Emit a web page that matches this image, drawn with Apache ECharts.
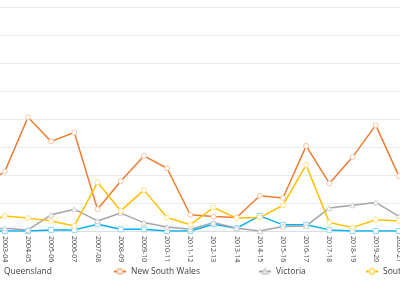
<!DOCTYPE html>
<html>
<head>
<meta charset="utf-8">
<script src="https://cdn.jsdelivr.net/npm/echarts@6/dist/echarts.min.js"></script>
<style>
html,body{margin:0;padding:0;width:400px;height:283px;overflow:hidden;background:#fff;}
#c{position:absolute;left:-70px;top:0;width:500px;height:283px;}
</style>
</head>
<body>
<div id="c"></div>
<script>
var categories = ['2002-03','2003-04','2004-05','2005-06','2006-07','2007-08','2008-09','2009-10','2010-11','2011-12','2012-13','2013-14','2014-15','2015-16','2016-17','2017-18','2018-19','2019-20','2020-21'];
var queensland = [0, 0, 0, 2, 2, 12, 3, 3, 0, 0, 12, 5, 27, 11, 11, 2, 0, 0, 0];
var newSouthWales = [80, 106, 203, 160, 176, 39, 89, 134, 112, 29, 26, 24, 63, 59, 152, 85, 132, 189, 98];
var victoria = [2, 5, 2, 29, 39, 18, 32, 15, 7, 3, 15, 5, 0, 8, 9, 41, 46, 51, 26];
var southAustralia = [11, 27, 23, 18, 9, 87, 36, 73, 24, 11, 42, 23, 24, 46, 118, 15, 6, 20, 18];
var seriesNames = ['Queensland', 'New South Wales', 'Victoria', 'South Australia'];
var yTicks = {min: 0, max: 400, interval: 50};

var lineColors = ['#00B0F0', '#ED7D31', '#A5A5A5', '#FFC000'];
var markColors = ['#8DD8F8', '#F6C3A0', '#D4D4D4', '#FFDF80'];
var symbols = ['rect', 'circle', 'triangle', 'circle'];
var legendLefts = [56, 183, 328, 435];

var chart = echarts.init(document.getElementById('c'), null, {renderer: 'canvas'});
function mk(i, data) {
  return {
    name: seriesNames[i], type: 'line', data: data,
    symbol: symbols[i], symbolSize: 5, showSymbol: true,
    lineStyle: {color: lineColors[i], width: 1.5},
    itemStyle: {color: '#fff', borderColor: markColors[i], borderWidth: 1},
    emphasis: {disabled: true}
  };
}
chart.setOption({
  animation: false,
  textStyle: {fontFamily: 'Open Sans'},
  color: lineColors,
  grid: {left: 40, right: 19.5, top: 7, bottom: 52, containLabel: false},
  legend: seriesNames.map(function(n, i){
    return {
      data: [{name: n, itemStyle: {color: '#fff', borderColor: markColors[i]}}],
      left: legendLefts[i], top: 267, itemWidth: 12, itemHeight: 6, padding: 0,
      textStyle: {fontSize: 8.5, color: '#404040', fontFamily: 'Open Sans'}
    };
  }),
  xAxis: {
    type: 'category', data: categories, boundaryGap: true,
    axisLine: {lineStyle: {color: '#D9DDE6'}},
    axisTick: {show: false},
    axisLabel: {rotate: -90, fontSize: 7, color: '#4D4D4D', margin: 5, interval: 0, fontFamily: 'Open Sans'},
    splitLine: {show: false}
  },
  yAxis: {
    type: 'value', min: yTicks.min, max: yTicks.max, interval: yTicks.interval,
    axisLine: {show: false}, axisTick: {show: false},
    axisLabel: {fontSize: 7, color: '#595959'},
    splitLine: {lineStyle: {color: '#E8EBF2', width: 1}}
  },
  series: [
    mk(0, queensland),
    mk(1, newSouthWales),
    mk(2, victoria),
    mk(3, southAustralia)
  ]
});
</script>
</body>
</html>
